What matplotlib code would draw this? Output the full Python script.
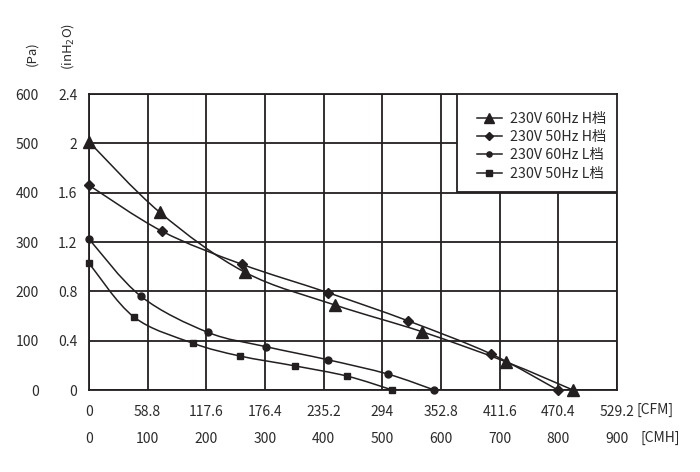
import numpy as np
import matplotlib
matplotlib.use('Agg')
import matplotlib.pyplot as plt
from matplotlib.path import Path
from matplotlib.patches import PathPatch, Rectangle
from matplotlib.lines import Line2D

plt.rcParams['font.family'] = ['Noto Sans CJK SC', 'DejaVu Sans']
INK = '#231f20'
TXT = '#2b2b2b'

# airflow (CFM) / static pressure (Pa)
h60_cfm = [0, 71, 156, 247, 334, 418, 485]
h60_pa = [503, 360, 239, 172, 118, 57, 0]
h50_cfm = [0, 73, 153, 240, 320, 403, 470]
h50_pa = [415, 322, 255, 197, 140, 73, 0]
l60_cfm = [0, 52, 119, 177, 240, 300, 346]
l60_pa = [306, 190, 117, 88, 61, 32, 0]
l50_cfm = [0, 45, 104, 151, 206, 259, 304]
l50_pa = [257, 148, 95, 69, 49, 28, 0]

labels = ['230V 60Hz H档', '230V 50Hz H档', '230V 60Hz L档', '230V 50Hz L档']
markers = ['^', 'D', 'o', 's']
msizes = [9, 5.5, 5, 5]

cfm_ticks = [0, 58.8, 117.6, 176.4, 235.2, 294, 352.8, 411.6, 470.4, 529.2]
cfm_labels = ['0', '58.8', '117.6', '176.4', '235.2', '294', '352.8', '411.6', '470.4', '529.2']
cmh_ticks = [0, 100, 200, 300, 400, 500, 600, 700, 800, 900]
pa_ticks = [0, 100, 200, 300, 400, 500, 600]
inh2o_labels = ['0', '0.4', '0.8', '1.2', '1.6', '2', '2.4']


def smooth_path(xs, ys):
    # Catmull-Rom through the points, as cubic Bezier segments
    p = np.column_stack([xs, ys]).astype(float)
    verts = [p[0]]
    codes = [Path.MOVETO]
    n = len(p)
    for i in range(n - 1):
        p0 = p[i - 1] if i > 0 else p[i]
        p3 = p[i + 2] if i + 2 < n else p[i + 1]
        c1 = p[i] + (p[i + 1] - p0) / 6.0
        c2 = p[i + 1] - (p3 - p[i]) / 6.0
        verts += [c1, c2, p[i + 1]]
        codes += [Path.CURVE4] * 3
    return Path(verts, codes)


fig = plt.figure(figsize=(7, 4.72), dpi=100)
ax = fig.add_axes([89 / 700, 82 / 472, 528 / 700, 296 / 472])
ax.set_xlim(0, 529.2)
ax.set_ylim(0, 600)

ax.set_xticks(cfm_ticks)
ax.set_xticklabels(cfm_labels)
ax.set_yticks(pa_ticks)
ax.set_yticklabels(inh2o_labels)
ax.grid(True, color=INK, lw=1.3)
ax.set_axisbelow(True)
for s in ax.spines.values():
    s.set_color(INK)
    s.set_linewidth(1.3)
ax.tick_params(length=0, labelsize=10, colors=INK, labelcolor=TXT)
ax.tick_params(axis='y', pad=8.5)
ax.tick_params(axis='x', pad=10.5)

series = [(h60_cfm, h60_pa), (h50_cfm, h50_pa), (l60_cfm, l60_pa), (l50_cfm, l50_pa)]
for (xs, ys), m, ms in zip(series, markers, msizes):
    ax.add_patch(PathPatch(smooth_path(xs, ys), facecolor='none', edgecolor=INK,
                           lw=1.1, zorder=3, clip_on=False))
    ax.plot(xs, ys, ls='none', marker=m, ms=ms, color=INK, zorder=4, clip_on=False)

# Pa labels on a second left axis
sec_y = ax.secondary_yaxis(-0.095, functions=(lambda v: v, lambda v: v))
sec_y.set_yticks(pa_ticks)
sec_y.spines['left'].set_visible(False)
sec_y.tick_params(length=0, labelsize=10, labelcolor=TXT, pad=0)

# CMH labels on a second bottom axis
sec_x = ax.secondary_xaxis(-0.14, functions=(lambda v: v / 0.588, lambda v: v * 0.588))
sec_x.set_xticks(cmh_ticks)
sec_x.spines['bottom'].set_visible(False)
sec_x.tick_params(length=0, labelsize=10, labelcolor=TXT, pad=0.5)

# units
fig.text(32 / 700, 1 - 54 / 472, '(Pa)', rotation=90, ha='center', va='center',
         fontsize=9.5, color=TXT)
fig.text(68 / 700, 1 - 46 / 472, '(inH$_2$O)', rotation=90, ha='center', va='center',
         fontsize=9.5, color=TXT)
fig.text(637 / 700, 1 - 410 / 472, '[CFM]', ha='left', va='center', fontsize=10, color=TXT)
fig.text(640 / 700, 1 - 438 / 472, '[CMH]', ha='left', va='center', fontsize=10, color=TXT)

# legend box
ax.add_patch(Rectangle((368 / 528, 198 / 296), 160 / 528, 98 / 296, transform=ax.transAxes,
                       facecolor='white', edgecolor=INK, lw=1.3, zorder=5))
handles = [Line2D([], [], color=INK, lw=1.1, marker=m, ms=ms * 0.75)
           for m, ms in zip(markers, msizes)]
leg = ax.legend(handles, labels, loc='upper left', bbox_to_anchor=(382 / 528, 284 / 296),
                frameon=False, fontsize=10.3, handlelength=1.75, handletextpad=0.6,
                labelspacing=0.3, borderaxespad=0)
leg.set_zorder(6)
for t in leg.get_texts():
    t.set_color(TXT)

fig.savefig('out.png', dpi=100)
